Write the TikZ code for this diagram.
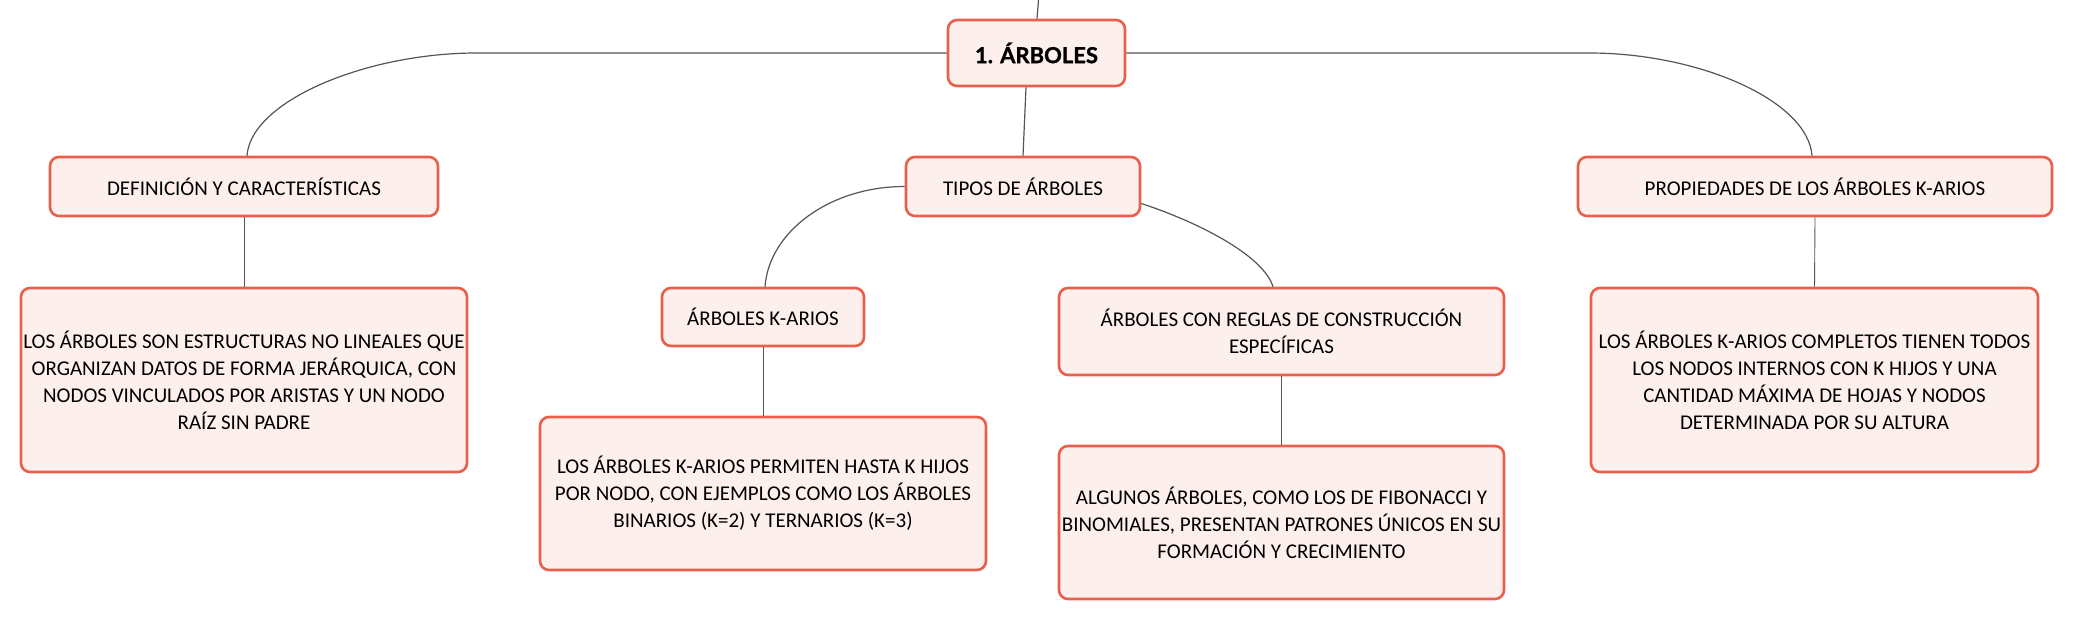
\documentclass[tikz,border=0pt]{standalone}
\usepackage{fontspec}
\setmainfont{Carlito}
\newfontfamily\rootfont[BoldFeatures={FakeBold=1.2}]{Lato}
\definecolor{bordc}{HTML}{E8604C}
\definecolor{fillc}{HTML}{FDF0EC}
\definecolor{linec}{HTML}{555555}
\begin{document}
\begin{tikzpicture}[x=1pt,y=-1pt,
  box/.style={draw=bordc, fill=fillc, line width=2.6pt, rounded corners=9pt,
    align=center, inner sep=0pt, font=\fontsize{21}{27}\selectfont},
  conn/.style={draw=linec, line width=1.2pt},
  thinconn/.style={draw=linec, line width=0.9pt}]
\useasboundingbox (0,0) rectangle (2074,620);

\node[box, minimum width=177pt, minimum height=66pt, font=\rootfont\fontsize{22}{27}\selectfont\bfseries] (root) at (1036.5,53) {1. ÁRBOLES};
\node[box, minimum width=388pt, minimum height=59pt] (def) at (244,186.5) {DEFINICIÓN Y CARACTERÍSTICAS};
\node[box, minimum width=234pt, minimum height=59pt] (tipos) at (1023,186.5) {TIPOS DE ÁRBOLES};
\node[box, minimum width=474pt, minimum height=59pt] (prop) at (1815,186.5) {PROPIEDADES DE LOS ÁRBOLES K-ARIOS};

\node[box, minimum width=446pt, minimum height=184pt] (deftext) at (244,380) {LOS ÁRBOLES SON ESTRUCTURAS NO LINEALES QUE\\ORGANIZAN DATOS DE FORMA JERÁRQUICA, CON\\NODOS VINCULADOS POR ARISTAS Y UN NODO\\RAÍZ SIN PADRE};
\node[box, minimum width=202pt, minimum height=58pt] (kar) at (763,317) {ÁRBOLES K-ARIOS};
\node[box, minimum width=445pt, minimum height=87pt] (acrc) at (1281.5,331.5) {ÁRBOLES CON REGLAS DE CONSTRUCCIÓN\\ESPECÍFICAS};
\node[box, minimum width=447pt, minimum height=184pt] (proptext) at (1814.5,380) {LOS ÁRBOLES K-ARIOS COMPLETOS TIENEN TODOS\\LOS NODOS INTERNOS CON K HIJOS Y UNA\\CANTIDAD MÁXIMA DE HOJAS Y NODOS\\DETERMINADA POR SU ALTURA};
\node[box, minimum width=446pt, minimum height=153pt] (kartext) at (763,493.5) {LOS ÁRBOLES K-ARIOS PERMITEN HASTA K HIJOS\\POR NODO, CON EJEMPLOS COMO LOS ÁRBOLES\\BINARIOS (K=2) Y TERNARIOS (K=3)};
\node[box, minimum width=445pt, minimum height=153pt] (alg) at (1281.5,522.5) {ALGUNOS ÁRBOLES, COMO LOS DE FIBONACCI Y\\BINOMIALES, PRESENTAN PATRONES ÚNICOS EN SU\\FORMACIÓN Y CRECIMIENTO};

\coordinate (topin) at (1038.5,0);

\draw[conn] (topin) -- ([xshift=0.5pt]root.north);
\draw[conn] (root.west) -- ++(-470,0) .. controls +(-110,0) and +(4,-55) .. ([xshift=3pt]def.north);
\draw[conn] (root.east) -- ++(463,0) .. controls +(110,0) and +(-4,-55) .. ([xshift=-3pt]prop.north);
\draw[conn] ([xshift=-10.5pt]root.south) -- (tipos.north);
\draw[conn] (tipos.west) .. controls +(-75,0) and +(4,-55) .. ([xshift=2pt]kar.north);
\draw[conn] ([yshift=-17pt]tipos.east) .. controls +(55,18) and +(-10,-32) .. ([xshift=-8.5pt]acrc.north);
\draw[thinconn] (def.south) -- (deftext.north);
\draw[thinconn] (kar.south) -- (kartext.north);
\draw[thinconn] (acrc.south) -- (alg.north);
\draw[thinconn] (prop.south) -- (proptext.north);
\end{tikzpicture}
\end{document}
